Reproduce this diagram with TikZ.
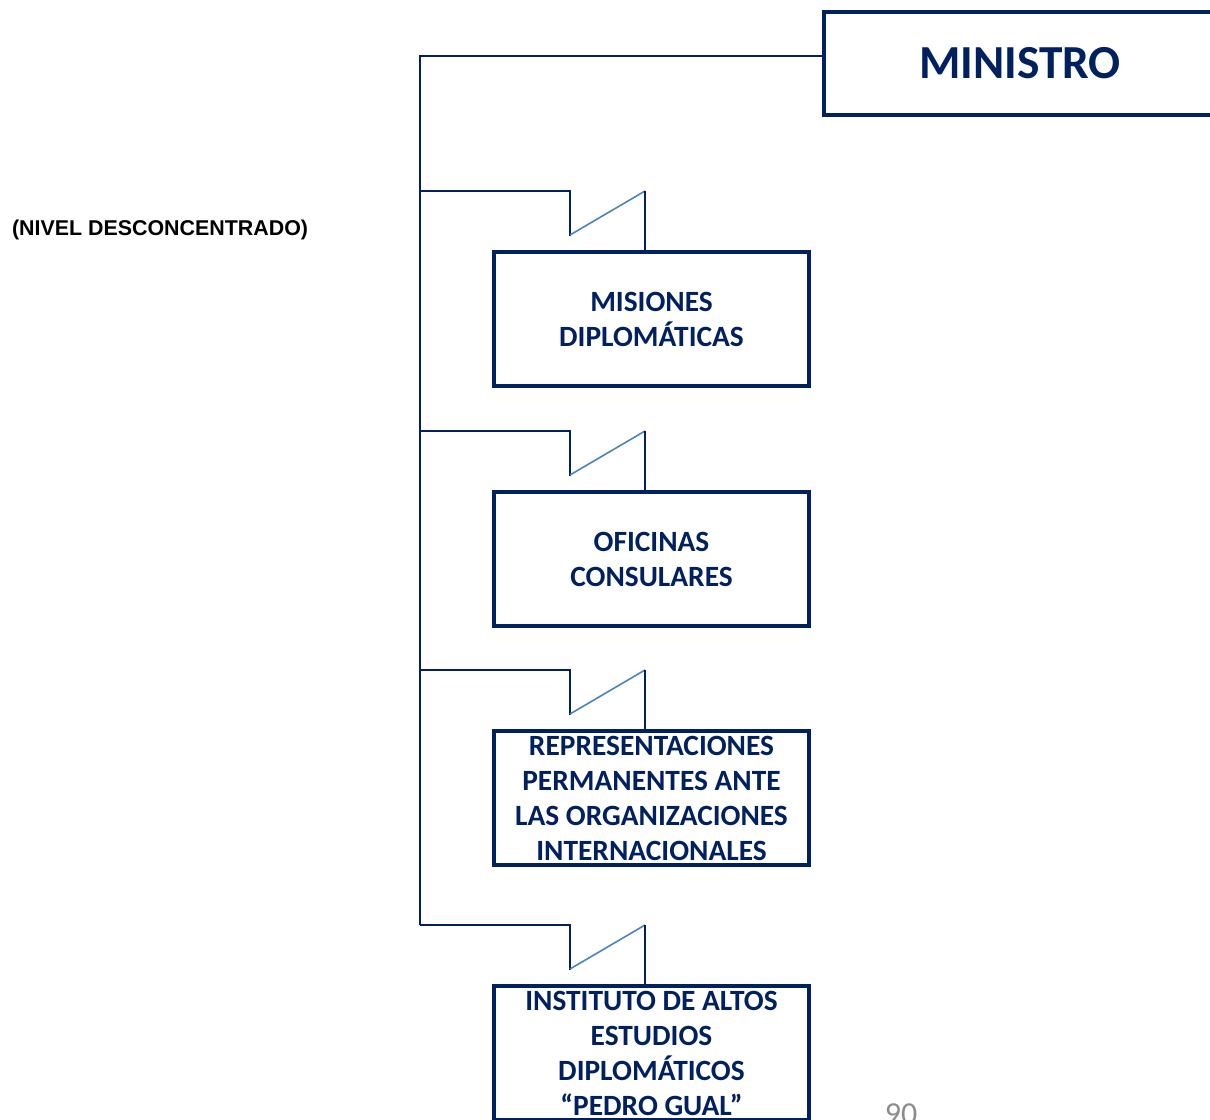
\documentclass[tikz,border=0pt]{standalone}
\usepackage{fontspec}
\setmainfont{Carlito}
\newfontfamily\arialfont{Liberation Sans}
\usepackage{xcolor}
\usetikzlibrary{positioning,calc}
\definecolor{navy}{RGB}{0,32,96}
\definecolor{boltblue}{RGB}{79,129,189}
\definecolor{pagegray}{RGB}{140,140,140}

\begin{document}
\begin{tikzpicture}[x=0.5pt,y=-0.5pt,
    unit/.style={draw=navy, line width=2pt, text=navy, align=center, inner sep=0pt,
      font=\fontsize{14.7}{17.5}\selectfont\bfseries,
      minimum width=157.5pt, minimum height=67pt},
    link/.style={navy, line width=1pt},
    bolt/.style={boltblue, line width=0.8pt}]
    \clip (0,0) rectangle (1210,1119);

    \node [unit, minimum width=196pt, minimum height=51.5pt,
      font=\fontsize{23.7}{28}\selectfont\bfseries] (min) at (1020,63.5) {MINISTRO};
    \node [anchor=west, font=\arialfont\bfseries\fontsize{10.7}{12}\selectfont] (nivel) at (5,230) {(NIVEL DESCONCENTRADO)};

    \node [unit] (misiones) at (651.5,319) {MISIONES\\DIPLOMÁTICAS};
    \node [unit] (oficinas) at (651.5,559) {OFICINAS\\CONSULARES};
    \node [unit] (represent) at (651.5,798) {REPRESENTACIONES\\PERMANENTES ANTE\\LAS ORGANIZACIONES\\INTERNACIONALES};
    \node [unit] (instituto) at (651.5,1053) {INSTITUTO DE ALTOS\\ESTUDIOS\\DIPLOMÁTICOS\\“PEDRO GUAL”};

    \node [text=pagegray, font=\fontsize{16}{19}\selectfont, anchor=base] (page) at (901,1124) {90};

    % trunk from the minister
    \coordinate (top) at (420,56);
    \coordinate (zm) at (645,191);
    \coordinate (zo) at (645,431);
    \coordinate (zr) at (645,670);
    \coordinate (zi) at (645,925);
    \draw [link] (min.west |- top) -- (top) -- (top |- zi);

    % zigzag branches
    \draw [link] (top |- zm) -- ++(150,0) -- ++(0,45);
    \draw [bolt] ($(zm)+(-75,44)$) -- (zm);
    \draw [link] (zm) -- (zm |- misiones.north);

    \draw [link] (top |- zo) -- ++(150,0) -- ++(0,45);
    \draw [bolt] ($(zo)+(-75,44)$) -- (zo);
    \draw [link] (zo) -- (zo |- oficinas.north);

    \draw [link] (top |- zr) -- ++(150,0) -- ++(0,45);
    \draw [bolt] ($(zr)+(-75,44)$) -- (zr);
    \draw [link] (zr) -- (zr |- represent.north);

    \draw [link] (top |- zi) -- ++(150,0) -- ++(0,45);
    \draw [bolt] ($(zi)+(-75,44)$) -- (zi);
    \draw [link] (zi) -- (zi |- instituto.north);
\end{tikzpicture}
\end{document}
